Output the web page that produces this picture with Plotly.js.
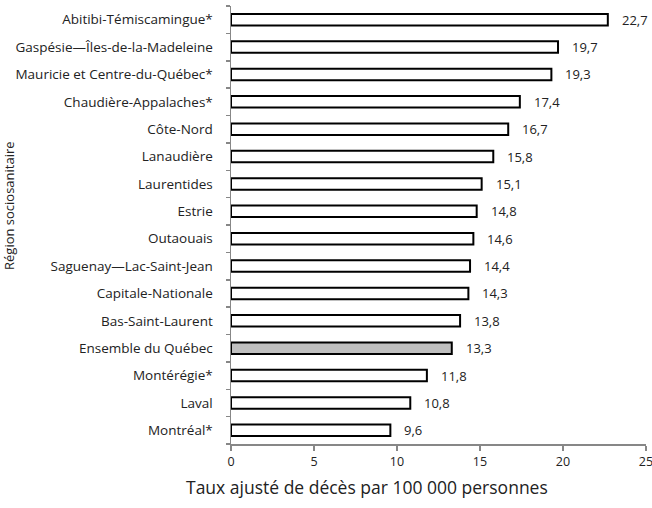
<!DOCTYPE html>
<html>
<head>
<meta charset="utf-8">
<script src="https://cdn.plot.ly/plotly-3.0.1.min.js"></script>
<style>html,body{margin:0;padding:0;background:#fff;}#chart{width:652px;height:508px;}</style>
</head>
<body>
<div id="chart"></div>
<script>
const regions = [
  "Abitibi-Témiscamingue*",
  "Gaspésie—Îles-de-la-Madeleine",
  "Mauricie et Centre-du-Québec*",
  "Chaudière-Appalaches*",
  "Côte-Nord",
  "Lanaudière",
  "Laurentides",
  "Estrie",
  "Outaouais",
  "Saguenay—Lac-Saint-Jean",
  "Capitale-Nationale",
  "Bas-Saint-Laurent",
  "Ensemble du Québec",
  "Montérégie*",
  "Laval",
  "Montréal*"
];
const rates = [22.7, 19.7, 19.3, 17.4, 16.7, 15.8, 15.1, 14.8, 14.6, 14.4, 14.3, 13.8, 13.3, 11.8, 10.8, 9.6];
const highlight = "Ensemble du Québec";
const xTicks = [0, 5, 10, 15, 20, 25];

const fmt = v => v.toFixed(1).replace('.', ',');
const fillColors = regions.map(r => r === highlight ? '#bfbfbf' : '#ffffff');

const trace = {
  type: 'bar',
  orientation: 'h',
  y: regions,
  x: rates,
  marker: { color: fillColors, line: { color: '#000000', width: 2 } },
  hoverinfo: 'none'
};

const labelAnnots = regions.map((r, i) => ({
  x: rates[i], y: r, xref: 'x', yref: 'y',
  text: fmt(rates[i]), showarrow: false,
  xanchor: 'left', xshift: 12,
  font: { family: 'Open Sans, sans-serif', size: 13, color: '#222' }
}));

const pad = '\u00a0\u00a0\u00a0\u00a0';

const layout = {
  width: 652, height: 508,
  margin: { l: 231, r: 6, t: 6, b: 64 },
  paper_bgcolor: '#fff', plot_bgcolor: '#fff',
  showlegend: false,
  bargap: 0.58,
  separators: ', ',
  font: { family: 'Open Sans, sans-serif', size: 12, color: '#222' },
  xaxis: {
    range: [0, 25], tickvals: xTicks, ticktext: xTicks.map(String),
    showgrid: false, zeroline: false,
    showline: true, linecolor: '#878787', linewidth: 1.5,
    ticks: 'outside', ticklen: 5, tickcolor: '#878787', tickwidth: 1.5,
    ticklabeloverflow: 'allow',
    tickfont: { size: 12.5, color: '#222' }, fixedrange: true
  },
  yaxis: {
    type: 'category', categoryorder: 'array', categoryarray: regions,
    autorange: 'reversed',
    tickmode: 'array', tickvals: regions, ticktext: regions.map(r => r + pad),
    showgrid: false, zeroline: false,
    showline: true, linecolor: '#878787', linewidth: 1.5,
    ticks: 'outside', ticklen: 4, tickcolor: '#878787', tickwidth: 1.5,
    tickson: 'boundaries',
    tickfont: { size: 13.5, color: '#222' }, fixedrange: true
  },
  annotations: labelAnnots.concat([
    { text: 'Taux ajusté de décès par 100 000 personnes', xref: 'paper', yref: 'paper',
      x: (367 - 231) / 415, y: (444 - 487) / 438, xanchor: 'center', yanchor: 'middle', showarrow: false,
      font: { size: 17.5, color: '#222' } },
    { text: 'Région sociosanitaire', xref: 'paper', yref: 'paper', textangle: -90,
      x: (9 - 231) / 415, y: (444 - 206) / 438, xanchor: 'center', yanchor: 'middle', showarrow: false,
      font: { size: 13, color: '#222' } }
  ])
};

Plotly.newPlot('chart', [trace], layout, { displayModeBar: false, staticPlot: true });
</script>
</body>
</html>
